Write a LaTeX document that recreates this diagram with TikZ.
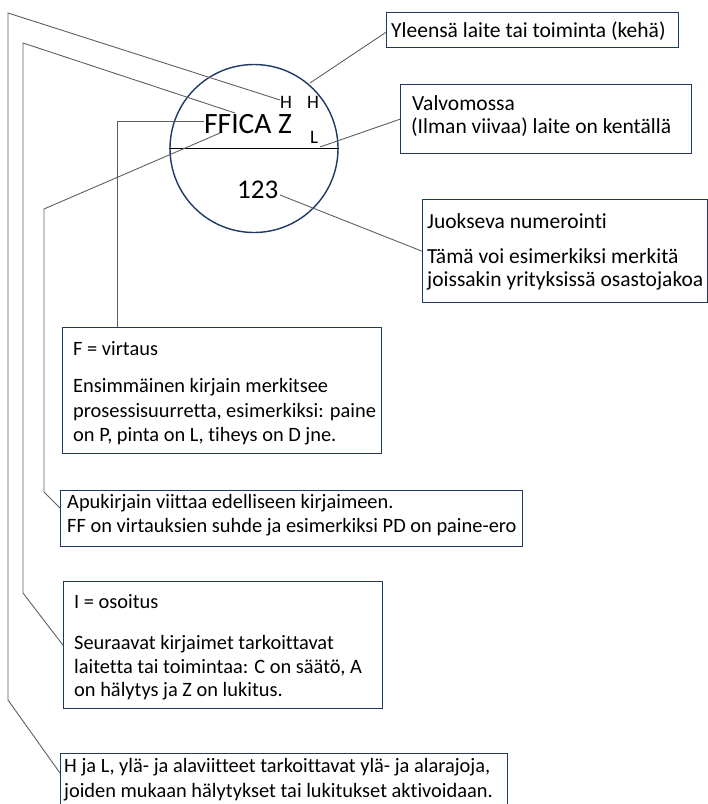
\documentclass[tikz,border=0pt]{standalone}
\usepackage{fontspec}
\setmainfont{Carlito}[Ligatures={NoCommon}]
\usetikzlibrary{calc}
\definecolor{navy}{RGB}{32,56,100}
\definecolor{leader}{RGB}{95,95,95}
\begin{document}
\begin{tikzpicture}[x=1pt,y=-1pt,
  notebox/.style={draw=navy,line width=1.4pt,inner sep=0pt,anchor=north west},
  leaderline/.style={draw=leader,line width=0.9pt},
  body/.style={anchor=base west,inner sep=0pt,font=\fontsize{20.4}{24}\selectfont},
  bodyR/.style={anchor=base west,inner sep=0pt,font=\fontsize{21.5}{23}\selectfont},
  tagtext/.style={anchor=base west,inner sep=0pt,font=\fontsize{29.5}{31}\selectfont},
  limtext/.style={anchor=base west,inner sep=0pt,font=\fontsize{19}{20}\selectfont}
]
\useasboundingbox (0,0) rectangle (708,804);
\clip (0,0) rectangle (708,804);

% instrument bubble
\node[circle,draw=navy,line width=1.4pt,minimum size=168pt,inner sep=0pt] (ring) at (254,148.5) {};
\draw[black,line width=0.9pt] (ring.west) -- (ring.east);
\node[tagtext] (tag) at (204,133) {FFICA Z};
\node[limtext] (hA) at (280,108) {H};
\node[limtext] (hB) at (307,108) {H};
\node[limtext] (lo) at (310,143) {L};
\node[anchor=base west,inner sep=0pt,font=\fontsize{27}{30}\selectfont] (num) at (237,198) {123};

% explanation boxes, right column
\node[notebox,minimum width=292pt,minimum height=35pt] (boxY) at (386,12) {};
\node[bodyR] (tY) at (391,37) {Yleensä laite tai toiminta (kehä)};

\node[notebox,minimum width=291pt,minimum height=69pt] (boxV) at (400,84) {};
\node[bodyR] (tV1) at (412,110) {Valvomossa};
\node[bodyR] (tV2) at (411,133) {(Ilman viivaa) laite on kentällä};

\node[notebox,minimum width=285pt,minimum height=103pt] (boxJ) at (422,199) {};
\node[bodyR] (tJ1) at (427,228) {Juokseva numerointi};
\node[bodyR] (tJ2) at (427,263) {Tämä voi esimerkiksi merkitä};
\node[bodyR] (tJ3) at (427,286) {joissakin yrityksissä osastojakoa};

% explanation boxes, left column
\node[notebox,minimum width=319pt,minimum height=126pt] (boxF) at (62,327) {};
\node[body] (tF1) at (73,355) {F = virtaus};
\node[body] (tF2) at (73,392) {Ensimmäinen kirjain merkitsee};
\node[body] (tF3) at (73,417) {prosessisuurretta, esimerkiksi: paine};
\node[body] (tF4) at (73,441) {on P, pinta on L, tiheys on D jne.};

\node[notebox,minimum width=462pt,minimum height=56pt] (boxA) at (60,490) {};
\node[body] (tA1) at (67,508) {Apukirjain viittaa edelliseen kirjaimeen.};
\node[body] (tA2) at (67,532) {FF on virtauksien suhde ja esimerkiksi PD on paine-ero};

\node[notebox,minimum width=319pt,minimum height=127pt] (boxI) at (63,581) {};
\node[body] (tI1) at (74,608) {I = osoitus};
\node[body] (tI2) at (74,649) {Seuraavat kirjaimet tarkoittavat};
\node[body] (tI3) at (74,673) {laitetta tai toimintaa: C on säätö, A};
\node[body] (tI4) at (74,696) {on hälytys ja Z on lukitus.};

\node[notebox,minimum width=447pt,minimum height=56pt] (boxH) at (60,753) {};
\node[body] (tH1) at (64,772) {H ja L, ylä- ja alaviitteet tarkoittavat ylä- ja alarajoja,};
\node[body] (tH2) at (64,797) {joiden mukaan hälytykset tai lukitukset aktivoidaan.};

% leader ends and bends
\coordinate (pH) at (280,100);
\coordinate (pI) at (235,113);
\coordinate (pF) at (220,133);
\coordinate (pT) at (204,121);
\coordinate (pRim) at (310,83);
\coordinate (pLine) at (320,147);
\coordinate (pNum) at (280,195);

% leaders
\draw[leaderline] (pH) -- (8,13) -- (8,700) -- ($(boxH.north west)+(0,20)$);
\draw[leaderline] (pI) -- (23,43) -- (23,593) -- (boxI.west);
\draw[leaderline] (pF) -- (44,209) -- (44,492) -- ($(boxA.north west)+(0,18)$);
\draw[leaderline] (pT) -- (117,121) -- (boxF.north west -| 117,0);
\draw[leaderline] (pRim) -- ($(boxY.west)+(0,2)$);
\draw[leaderline] (pLine) -- (boxV.west);
\draw[leaderline] (pNum) -- (boxJ.west);
\end{tikzpicture}
\end{document}
